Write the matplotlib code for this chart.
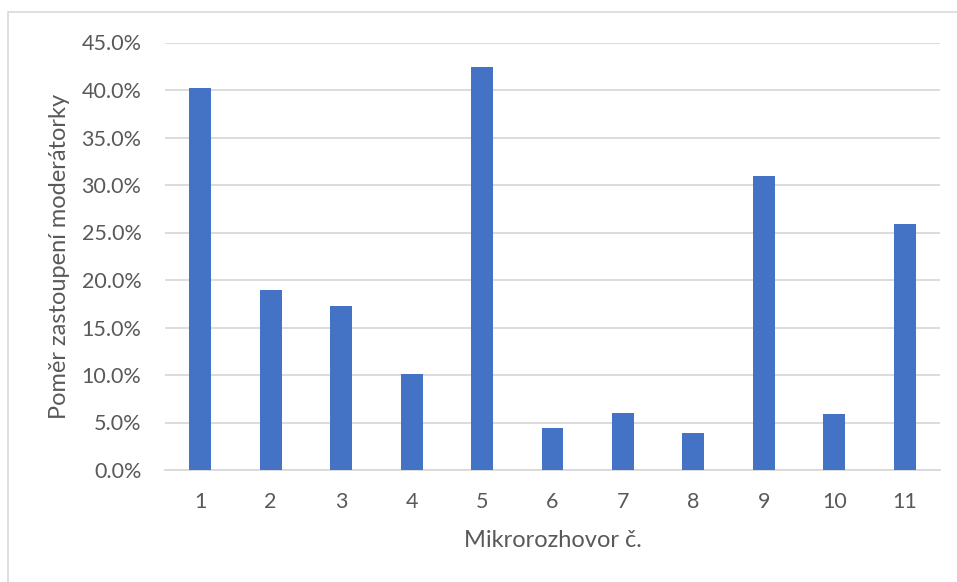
import matplotlib
matplotlib.use("Agg")
import matplotlib.pyplot as plt
from matplotlib.ticker import PercentFormatter, MultipleLocator
from matplotlib.patches import Rectangle

categories = ["1", "2", "3", "4", "5", "6", "7", "8", "9", "10", "11"]
values = [40.2, 18.9, 17.3, 10.1, 42.4, 4.45, 5.96, 3.93, 30.9, 5.9, 25.9]
y_label = "Poměr zastoupení moderátorky"
x_label = "Mikrorozhovor č."

plt.rcParams['font.family'] = ['Lato', 'DejaVu Sans']

fig = plt.figure(figsize=(9.57, 5.82), dpi=100)
fig.patch.set_facecolor("white")
fig.patches.append(Rectangle((8/957, -0.05), 1.2, 1 - 12/582 + 0.05,
                             transform=fig.transFigure, fill=False,
                             edgecolor="#d9d9d9", linewidth=1.2))

ax = fig.add_axes([165/957, 1 - 470/582, (940 - 165)/957, (470 - 42.5)/582])
x = list(range(len(categories)))
ax.bar(x, values, width=0.31, color="#4472C4", zorder=3)

ax.set_xlim(-0.5, len(categories) - 0.5)
ax.set_ylim(0, 45)
ax.yaxis.set_major_locator(MultipleLocator(5))
ax.yaxis.set_major_formatter(PercentFormatter(decimals=1))
ax.set_xticks(x)
ax.set_xticklabels(categories)

ax.grid(axis="y", color="#d9d9d9", linewidth=1.3, zorder=0)
ax.set_axisbelow(True)
for s in ["top", "right", "left"]:
    ax.spines[s].set_visible(False)
ax.spines["bottom"].set_color("#d9d9d9")
ax.spines["bottom"].set_linewidth(1.3)
ax.tick_params(axis="both", length=0, labelsize=15.5, labelcolor="#595959")
ax.tick_params(axis="y", pad=17)
ax.tick_params(axis="x", pad=16)

ax.set_ylabel(y_label, fontsize=17, color="#595959", labelpad=8)
ax.set_xlabel(x_label, fontsize=17, color="#595959", labelpad=13)

fig.savefig("out.png", dpi=100, facecolor="white")
